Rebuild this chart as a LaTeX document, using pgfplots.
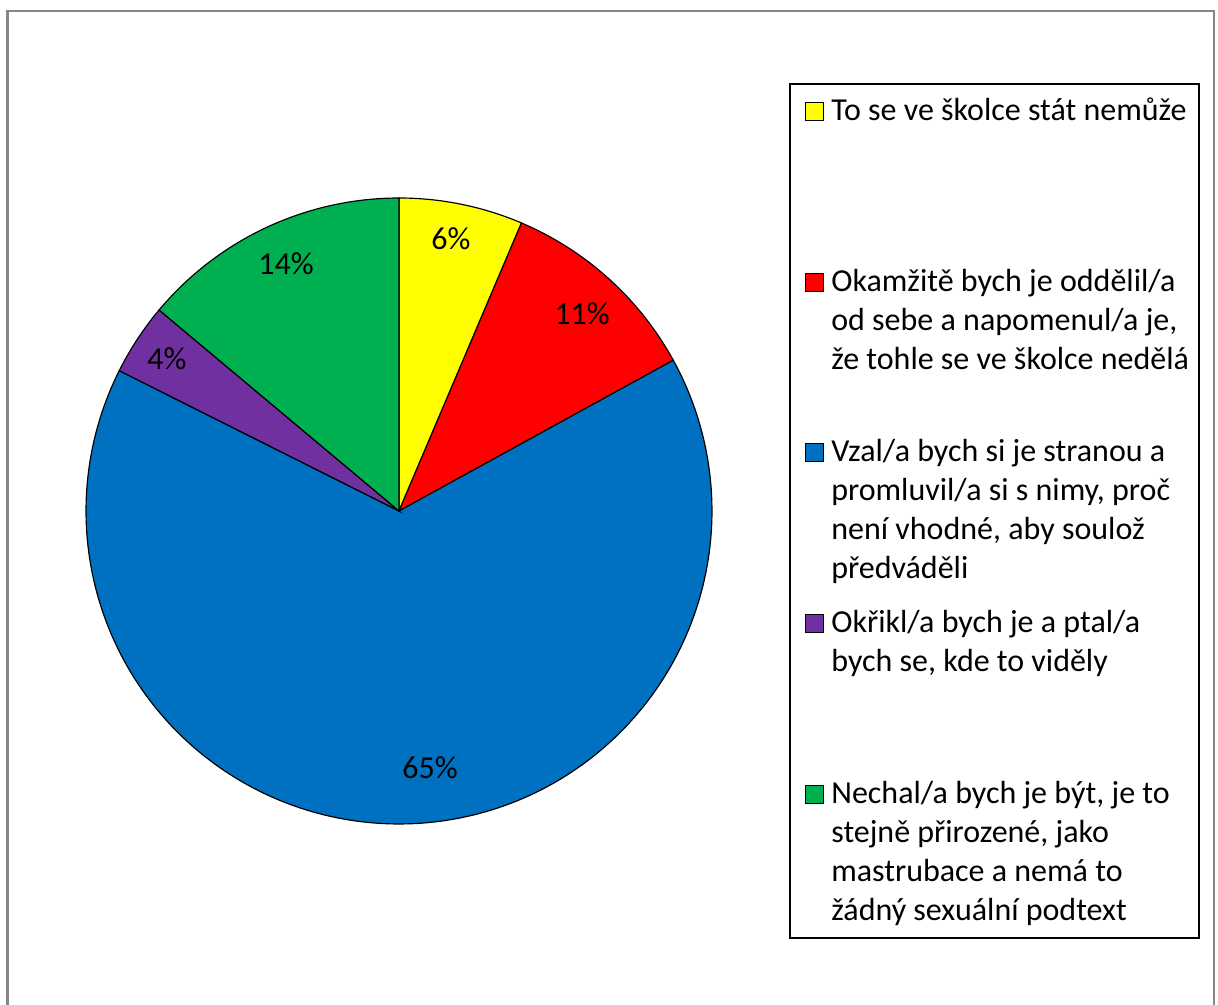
\documentclass[border=0pt]{standalone}
\usepackage{fontspec}
\setmainfont{Carlito}
\usepackage{pgfplots}
\usepackage{pgfplotstable}
\pgfplotsset{compat=1.18}
\definecolor{cY}{HTML}{FFFF00}
\definecolor{cR}{HTML}{FF0000}
\definecolor{cB}{HTML}{0070C0}
\definecolor{cP}{HTML}{7030A0}
\definecolor{cG}{HTML}{00B050}
\definecolor{frame}{HTML}{868686}

% shares of the pie (percent), clockwise from 12 o'clock
\pgfplotstableread{
share
6.4
10.6
65.4
3.7
13.9
}\piedata

\pgfplotstableread{
x y lab
451 766 6\%
582 691 11\%
430 237 65\%
167 646 4\%
286 741 14\%
}\labdata

\pgfplotstablegetelem{0}{share}\of\piedata \let\vA\pgfplotsretval
\pgfplotstablegetelem{1}{share}\of\piedata \let\vB\pgfplotsretval
\pgfplotstablegetelem{2}{share}\of\piedata \let\vC\pgfplotsretval
\pgfplotstablegetelem{3}{share}\of\piedata \let\vD\pgfplotsretval
\pgfplotstablegetelem{4}{share}\of\piedata \let\vE\pgfplotsretval
\pgfmathsetmacro\aA{90}
\pgfmathsetmacro\aB{\aA-3.6*\vA}
\pgfmathsetmacro\aC{\aB-3.6*\vB}
\pgfmathsetmacro\aD{\aC-3.6*\vC}
\pgfmathsetmacro\aE{\aD-3.6*\vD}
\pgfmathsetmacro\aF{\aE-3.6*\vE}

\newcommand\fs{\fontsize{19.2}{23}\selectfont}

\begin{document}
\begin{tikzpicture}[x=0.6pt,y=0.6pt]
\path[use as bounding box] (0,0) rectangle (1218,1005);
\draw[frame, line width=1.4pt] (7.5,-10) -- (7.5,994) -- (1214,994) -- (1214,-10);
\begin{axis}[anchor=origin, at={(0,0)}, x=0.6pt, y=0.6pt,
  xmin=0, xmax=1218, ymin=0, ymax=1005, hide axis, clip=false]
\addplot[fill=cY, draw=black, line width=0.7pt, domain=\aB:\aA, samples=60, variable=\t]
  ({399+313*cos(\t)},{494+313*sin(\t)}) -- (axis cs:399,494) -- cycle;
\addplot[fill=cR, draw=black, line width=0.7pt, domain=\aC:\aB, samples=60, variable=\t]
  ({399+313*cos(\t)},{494+313*sin(\t)}) -- (axis cs:399,494) -- cycle;
\addplot[fill=cB, draw=black, line width=0.7pt, domain=\aD:\aC, samples=200, variable=\t]
  ({399+313*cos(\t)},{494+313*sin(\t)}) -- (axis cs:399,494) -- cycle;
\addplot[fill=cP, draw=black, line width=0.7pt, domain=\aE:\aD, samples=30, variable=\t]
  ({399+313*cos(\t)},{494+313*sin(\t)}) -- (axis cs:399,494) -- cycle;
\addplot[fill=cG, draw=black, line width=0.7pt, domain=\aF:\aE, samples=60, variable=\t]
  ({399+313*cos(\t)},{494+313*sin(\t)}) -- (axis cs:399,494) -- cycle;
\addplot[draw=none, mark=none, nodes near coords, point meta=explicit symbolic,
  every node near coord/.append style={font=\fs, anchor=center, inner sep=0pt}]
  table[x=x, y=y, meta=lab] {\labdata};
\end{axis}
% legend
\draw[black, line width=0.8pt] (790,921) rectangle (1199,67);
\foreach \c/\yy in {cY/893.5, cR/722.5, cB/552.5, cP/381.5, cG/210.5}
  \draw[fill=\c, draw=black, line width=0.7pt] (805.5,\yy-9) rectangle (823.5,\yy+9);
\foreach \yy/\t in {
  111/{To se ve školce stát nemůže},
  282/{Okamžitě bych je oddělil/a},
  321/{od sebe a napomenul/a je,},
  360/{že tohle se ve školce nedělá},
  452/{Vzal/a bych si je stranou a},
  491/{promluvil/a si s nimy, proč},
  530/{není vhodné, aby soulož},
  569/{předváděli},
  623/{Okřikl/a bych je a ptal/a},
  662/{bych se, kde to viděly},
  794/{Nechal/a bych je být, je to},
  833/{stejně přirozené, jako},
  872/{mastrubace a nemá to},
  911/{žádný sexuální podtext}}
  \node[anchor=base west, inner sep=0pt, font=\fs] at (831,{1005-\yy-10}) {\t};
\end{tikzpicture}
\end{document}
